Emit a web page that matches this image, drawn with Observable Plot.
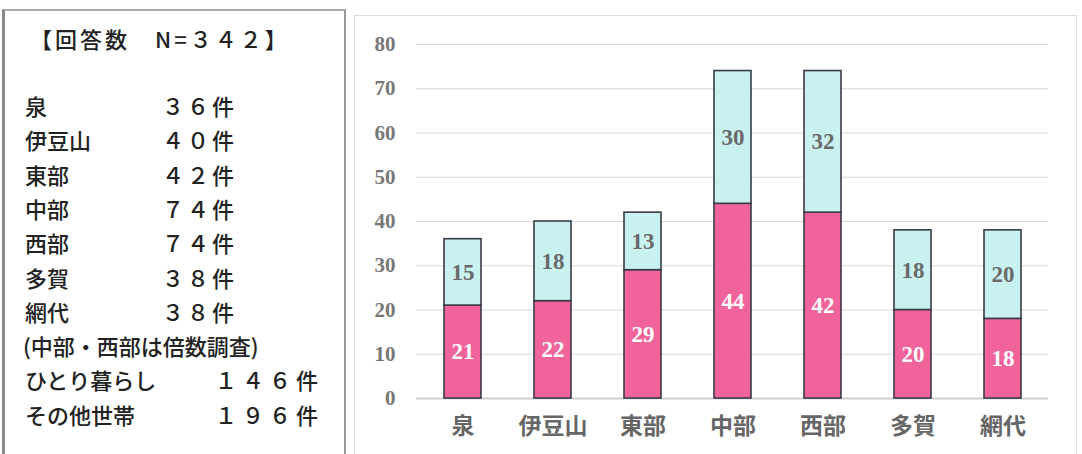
<!DOCTYPE html>
<html><head><meta charset="utf-8">
<script src="https://cdn.jsdelivr.net/npm/d3@7"></script>
<script src="https://cdn.jsdelivr.net/npm/@observablehq/plot@0.6"></script>
<style>
body{margin:0;width:1082px;height:454px;overflow:hidden;background:#fff;font-family:"Liberation Serif","Noto Sans CJK JP",serif;}
#left{position:absolute;left:2px;top:9px;width:344px;height:470px;border-left:3px solid #888;border-top:2px solid #aaa;border-right:2px solid #999;box-sizing:border-box;color:#222;font-family:"Noto Sans CJK JP",sans-serif;font-size:22px;font-weight:500;}
#left .row{position:absolute;left:20px;white-space:nowrap;line-height:30px;}
#left .row span{position:absolute;top:0;white-space:nowrap;}
#right{position:absolute;left:354px;top:15px;width:723px;height:470px;border:1px solid #ddd;box-sizing:border-box;}
#chart{position:absolute;left:354px;top:15px;}
</style>
</head><body>
<div id="left"></div>
<div id="right"></div>
<div id="chart"></div>
<script>
// ---- data ----
const categories = ["泉","伊豆山","東部","中部","西部","多賀","網代"];
const alone = [21,22,29,44,42,20,18];      // ひとり暮らし
const other = [15,18,13,30,32,18,20];      // その他世帯
const seriesNames = ["ひとり暮らし","その他世帯"];
const yTicks = [0,10,20,30,40,50,60,70,80];

const panelTitle = "【回答数　N=３４２】";
const regionLabels = ["泉","伊豆山","東部","中部","西部","多賀","網代"];
const regionCounts = ["３６件","４０件","４２件","７４件","７４件","３８件","３８件"];
const panelNote = "(中部・西部は倍数調査)";
const householdLabels = ["ひとり暮らし","その他世帯"];
const householdCounts = ["１４６件","１９６件"];

// ---- left panel ----
const left = document.getElementById("left");
function addRow(top, a, aLeft, aSpacing, b, bLeft, bSpacing){
  const r = document.createElement("div");
  r.className = "row"; r.style.top = top + "px";
  const s1 = document.createElement("span"); s1.textContent = a; s1.style.left = aLeft + "px";
  if (aSpacing) s1.style.letterSpacing = aSpacing;
  r.appendChild(s1);
  if (b){ const s2 = document.createElement("span"); s2.textContent = b; s2.style.left = bLeft + "px"; if (bSpacing) s2.style.letterSpacing = bSpacing; r.appendChild(s2); }
  left.appendChild(r);
}
const rowH = 34.3;
addRow(12, panelTitle, 5, "3px");
regionLabels.forEach((t,i) => addRow(79 + i*rowH, t, 0, null, regionCounts[i], 137, "3px"));
addRow(79 + 7*rowH, panelNote, -2, null);
householdLabels.forEach((t,i) => addRow(79 + (8+i)*rowH, t, 0, null, householdCounts[i], 190, "5px"));

// ---- chart data ----
const rowsAlone = categories.map((c,i) => ({cat:c, series:seriesNames[0], value:alone[i], y1:0, y2:alone[i]}));
const rowsOther = categories.map((c,i) => ({cat:c, series:seriesNames[1], value:other[i], y1:alone[i], y2:alone[i]+other[i]}));
const rows = rowsAlone.concat(rowsOther);

const pink = "#f0649b", cyan = "#c8f1f0";

const chart = Plot.plot({
  width: 722, height: 439,
  marginLeft: 62, marginRight: 28, marginTop: 29, marginBottom: 56,
  style: {background: "transparent", fontFamily: "'Liberation Serif','Noto Sans CJK JP',serif"},
  x: {type: "band", domain: categories, paddingInner: 0.59, paddingOuter: 0.295, label: null},
  y: {domain: [0, 80], label: null},
  color: {domain: seriesNames, range: [pink, cyan]},
  marks: [
    Plot.ruleY(yTicks.filter(d => d > 0), {stroke: "#d9d9d9", strokeWidth: 1.2}),
    Plot.ruleY([0], {stroke: "#cfcfcf", strokeWidth: 2}),
    Plot.barY(rows, {x: "cat", y1: "y1", y2: "y2", fill: "series", stroke: "#3a3a48", strokeWidth: 1.6}),
    Plot.text(rowsAlone, {x: "cat", y: d => (d.y1 + d.y2) / 2, text: "value", fill: "#fff", fontSize: 23, fontWeight: "bold"}),
    Plot.text(rowsOther, {x: "cat", y: d => (d.y1 + d.y2) / 2, text: "value", fill: "#6a6a6a", fontSize: 23, fontWeight: "bold"}),
    Plot.axisY({ticks: yTicks, tickSize: 0, tickPadding: 21, fontSize: 21, fontWeight: "bold", fill: "#777", label: null}),
    Plot.axisX({tickSize: 0, tickPadding: 19, fontSize: 23, fontWeight: "bold", fill: "#666", label: null, fontFamily: "'Noto Sans CJK JP',sans-serif"})
  ]
});
document.getElementById("chart").appendChild(chart);
</script>
</body></html>
